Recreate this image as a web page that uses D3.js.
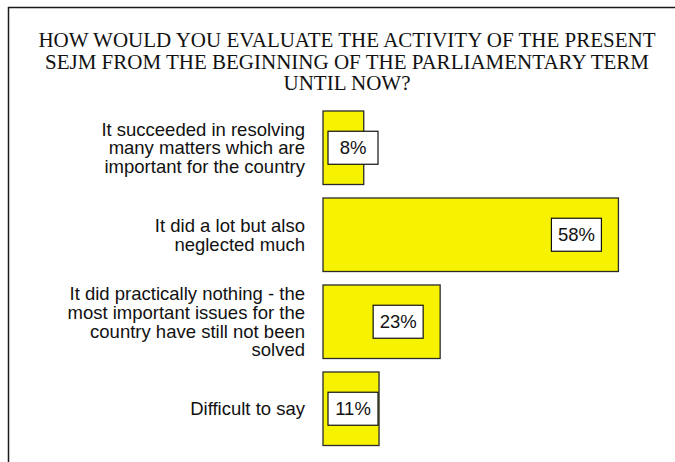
<!DOCTYPE html>
<html>
<head>
<meta charset="utf-8">
<script src="https://cdn.jsdelivr.net/npm/d3@7"></script>
<style>
  html, body { margin: 0; padding: 0; background: #fff; }
  svg { display: block; }
</style>
</head>
<body>
<svg id="chart" width="675" height="462"></svg>
<script>
// Survey answers (one wrapped label per row) and their shares in percent
const titleLines = [
  "HOW WOULD YOU EVALUATE THE ACTIVITY OF THE PRESENT",
  "SEJM FROM THE BEGINNING OF THE PARLIAMENTARY TERM",
  "UNTIL NOW?"
];
const categories = [
  ["It succeeded in resolving", "many matters which are", "important for the country"],
  ["It did a lot but also", "neglected much"],
  ["It did practically nothing - the", "most important issues for the", "country have still not been", "solved"],
  ["Difficult to say"]
];
const values = [8, 58, 23, 11];
const valueLabels = ["8%", "58%", "23%", "11%"];

const svg = d3.select("#chart");
const W = 675, H = 462;

// Outer frame (only the top and left edges fall inside the view)
svg.append("rect")
  .attr("x", 8.5).attr("y", 7.5)
  .attr("width", 720).attr("height", 520)
  .attr("fill", "#fff")
  .attr("stroke", "#1a1a1a")
  .attr("stroke-width", 1.5);

// Title
svg.append("g")
  .selectAll("text")
  .data(titleLines)
  .join("text")
  .attr("x", 347)
  .attr("y", (d, i) => 47 + i * 21.5)
  .attr("text-anchor", "middle")
  .attr("font-family", "'Liberation Serif', 'Times New Roman', serif")
  .attr("font-size", 21)
  .attr("fill", "#111")
  .text(d => d);

// Scales
const idx = d3.range(categories.length);
const x = d3.scaleLinear().domain([0, 60]).range([323, 628.6]);
const y = d3.scaleBand()
  .domain(idx)
  .range([104.25, 452.25])
  .paddingInner(0.155)
  .paddingOuter(0.0776);

// Bars
svg.append("g")
  .selectAll("rect")
  .data(idx)
  .join("rect")
  .attr("x", x(0))
  .attr("y", i => y(i))
  .attr("width", i => x(values[i]) - x(0))
  .attr("height", y.bandwidth())
  .attr("fill", "#f7f200")
  .attr("stroke", "#2a2a2a")
  .attr("stroke-width", 1.3);

// Category labels, right-aligned and centred on each bar
const lineH = 18.7;
const labelG = svg.append("g")
  .attr("font-family", "'Liberation Sans', Arial, sans-serif")
  .attr("font-size", 18.5)
  .attr("fill", "#111")
  .attr("text-anchor", "end");
idx.forEach(i => {
  const lines = categories[i];
  const cy = y(i) + y.bandwidth() / 2;
  const first = cy - (lines.length - 1) * lineH / 2 + 6.5;
  labelG.append("g")
    .selectAll("text")
    .data(lines)
    .join("text")
    .attr("x", 305)
    .attr("y", (d, k) => first + k * lineH)
    .text(d => d);
});

// Value labels in white boxes near the end of each bar
const boxW = 50, boxH = 33;
const vg = svg.append("g");
idx.forEach(i => {
  const end = x(values[i]);
  const cx = Math.max(end - 42, x(0) + 30);
  const cy = y(i) + y.bandwidth() / 2;
  vg.append("rect")
    .attr("x", cx - boxW / 2)
    .attr("y", cy - boxH / 2)
    .attr("width", boxW)
    .attr("height", boxH)
    .attr("fill", "#fff")
    .attr("stroke", "#111")
    .attr("stroke-width", 1.2);
  vg.append("text")
    .attr("x", cx)
    .attr("y", cy + 6.5)
    .attr("text-anchor", "middle")
    .attr("font-family", "'Liberation Sans', Arial, sans-serif")
    .attr("font-size", 18.5)
    .attr("fill", "#111")
    .text(valueLabels[i]);
});
</script>
</body>
</html>
